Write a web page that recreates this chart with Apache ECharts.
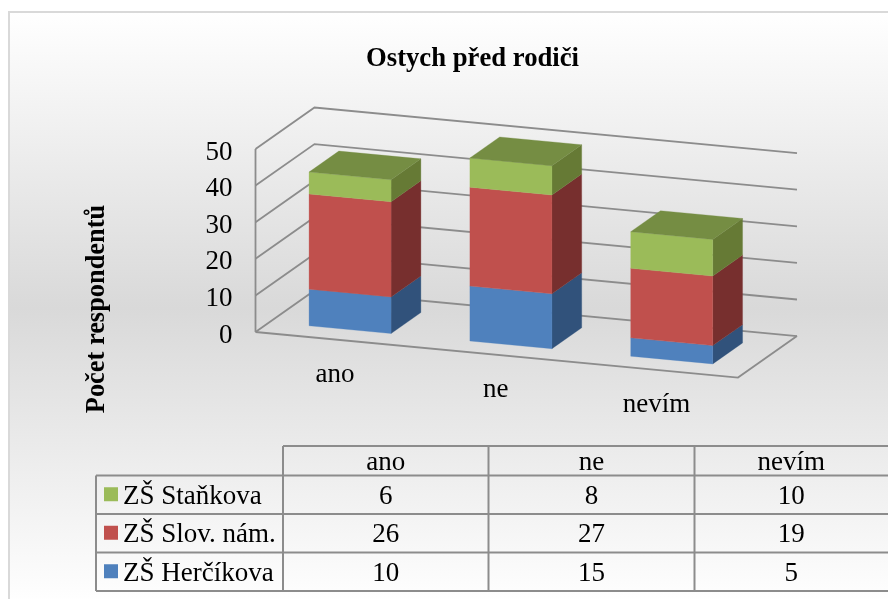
<!DOCTYPE html>
<html><head><meta charset="utf-8">
<style>html,body{margin:0;padding:0;background:#fff}#c{width:888px;height:599px}</style>
<script src="https://cdn.jsdelivr.net/npm/echarts@6/dist/echarts.min.js"></script>
</head><body><div id="c"></div>
<script>
const titleText = 'Ostych před rodiči';
const yAxisTitle = 'Počet respondentů';
const categories = ['ano', 'ne', 'nevím'];
const herčíkova = [10, 15, 5];
const slovNam = [26, 27, 19];
const staňkova = [6, 8, 10];
const seriesNames = ['ZŠ Herčíkova', 'ZŠ Slov. nám.', 'ZŠ Staňkova'];
const yTicks = [0, 10, 20, 30, 40, 50];

const FONT = '"Liberation Serif"';
const LINE = '#8c8c8c';
const front = ['#4f81bd', '#c0504d', '#9bbb59'];
const side = ['#31527b', '#772f2e', '#667a35'];
const topFace = '#758d43';

// oblique projection: the axis plane is sheared and depth runs up and to the right
const SLOPE = 0.0945, DX = 59, DY = -41.5;
const BAR_FRAC = 0.51, D0 = 0.24, D1 = 0.745;
function proj(cs, p, d) {
  return [p[0] + DX * d, p[1] + (p[0] - cs.x) * SLOPE + DY * d];
}

function base(i) {
  const all = [herčíkova, slovNam, staňkova];
  return (k) => { let s = 0; for (let j = 0; j < k; j++) s += all[j][i]; return s; };
}

function barSeries(name, values, k) {
  return {
    type: 'custom', name, coordinateSystem: 'cartesian2d', z: 3 + k,
    data: values.map((v, i) => [i, base(i)(k), base(i)(k) + v]),
    encode: { x: 0, y: [1, 2] },
    renderItem(params, api) {
      const cs = params.coordSys;
      const i = api.value(0);
      const w = api.size([1, 0])[0] * BAR_FRAC;
      const a = api.coord([i, api.value(1)]);
      const b = api.coord([i, api.value(2)]);
      const L = a[0] - w / 2, R = a[0] + w / 2;
      const P = (x, y, d) => proj(cs, [x, y], d);
      const children = [
        { type: 'polygon', shape: { points: [P(R, a[1], D0), P(R, a[1], D1), P(R, b[1], D1), P(R, b[1], D0)] },
          style: { fill: side[k], stroke: side[k], lineWidth: 0.3 } },
        { type: 'polygon', shape: { points: [P(L, a[1], D0), P(R, a[1], D0), P(R, b[1], D0), P(L, b[1], D0)] },
          style: { fill: front[k], stroke: front[k], lineWidth: 0.3 } }
      ];
      if (k === 2) children.push({ type: 'polygon',
        shape: { points: [P(L, b[1], D0), P(R, b[1], D0), P(R, b[1], D1), P(L, b[1], D1)] },
        style: { fill: topFace, stroke: topFace, lineWidth: 0.3 } });
      return { type: 'group', children };
    }
  };
}

const wallSeries = {
  type: 'custom', coordinateSystem: 'cartesian2d', z: 2, silent: true,
  data: yTicks.map(v => [0, v]),
  encode: { x: 0, y: 1 },
  renderItem(params, api) {
    const cs = params.coordSys;
    const v = api.value(1);
    const y = api.coord([0, v])[1];
    const lx = cs.x, rx = cs.x + cs.width;
    const st = { stroke: LINE, lineWidth: 1.8, fill: null };
    const children = [{ type: 'polyline', shape: { points: [proj(cs, [lx, y], 0), proj(cs, [lx, y], 1), proj(cs, [rx, y], 1)] }, style: st }];
    if (v === 0) {
      children.push({ type: 'polyline', shape: { points: [proj(cs, [lx, y], 0), proj(cs, [rx, y], 0), proj(cs, [rx, y], 1)] }, style: st });
      children.push({ type: 'line', shape: { x1: lx, y1: y, x2: lx, y2: cs.y }, style: st });
    }
    return { type: 'group', children };
  }
};

const categoryLabels = {
  type: 'custom', coordinateSystem: 'cartesian2d', z: 2, silent: true,
  data: categories.map((c, i) => [i, 0, c]),
  encode: { x: 0, y: 1 },
  renderItem(params, api) {
    const cs = params.coordSys;
    const p = proj(cs, api.coord([api.value(0), 0]), 0);
    return { type: 'text', x: p[0] - 1, y: p[1] + 35,
      style: { text: categories[api.value(0)], font: '27px ' + FONT, fill: '#000', align: 'center', verticalAlign: 'middle' } };
  }
};

// data table
const colX = [96, 283, 488.5, 694.5, 888];
const rowY = [446, 475.5, 514, 552.5, 591];
const tableRows = [
  { name: seriesNames[2], values: staňkova, color: front[2] },
  { name: seriesNames[1], values: slovNam, color: front[1] },
  { name: seriesNames[0], values: herčíkova, color: front[0] }
];
const tableEls = [];
function hLine(x1, x2, y) { tableEls.push({ type: 'line', shape: { x1, x2, y1: y, y2: y }, style: { stroke: LINE, lineWidth: 2 }, silent: true, z: 5 }); }
function vLine(x, y1, y2) { tableEls.push({ type: 'line', shape: { x1: x, x2: x, y1, y2 }, style: { stroke: LINE, lineWidth: 2 }, silent: true, z: 5 }); }
function cell(text, x, y, align) { tableEls.push({ type: 'text', x, y: y + 2, silent: true, z: 6, style: { text, font: '27px ' + FONT, fill: '#000', align: align || 'center', verticalAlign: 'middle' } }); }
hLine(colX[1], colX[4], rowY[0]);
for (let r = 1; r < rowY.length; r++) hLine(colX[0], colX[4], rowY[r]);
vLine(colX[0], rowY[1], rowY[4]);
for (let c = 1; c <= 3; c++) vLine(colX[c], rowY[0], rowY[4]);
categories.forEach((c, i) => cell(c, (colX[i + 1] + colX[i + 2]) / 2, (rowY[0] + rowY[1]) / 2));
tableRows.forEach((row, r) => {
  const cy = (rowY[r + 1] + rowY[r + 2]) / 2;
  tableEls.push({ type: 'rect', shape: { x: 104, y: cy - 7.5, width: 14, height: 14 }, style: { fill: row.color }, silent: true, z: 6 });
  cell(row.name, 123, cy, 'left');
  row.values.forEach((v, i) => cell(String(v), (colX[i + 1] + colX[i + 2]) / 2, cy));
});

const chart = echarts.init(document.getElementById('c'), null, { renderer: 'canvas' });
chart.setOption({
  animation: false,
  backgroundColor: '#ffffff',
  title: { text: titleText, left: 467.5, top: 41, textAlign: 'center',
    textStyle: { fontFamily: FONT, fontWeight: 'bold', fontSize: 26.7, color: '#000' } },
  grid: { left: 255.5, right: 150, top: 149, bottom: 267, containLabel: false },
  xAxis: { type: 'category', data: categories, show: false },
  yAxis: { type: 'value', min: 0, max: 50, interval: 10,
    axisLine: { show: false }, axisTick: { show: false }, splitLine: { show: false },
    axisLabel: { margin: 23, color: '#000', formatter: '{t|{value}}',
      rich: { t: { fontFamily: FONT, fontSize: 27, color: '#000', padding: [7, 0, 0, 0] } } } },
  graphic: { elements: [
    { type: 'rect', z: -10, silent: true, shape: { x: 9, y: 12, width: 900, height: 592 },
      style: { stroke: '#d9d9d9', lineWidth: 2,
        fill: new echarts.graphic.LinearGradient(0, 0, 0, 1, [
          { offset: 0, color: '#ffffff' }, { offset: 0.5, color: '#d9d9d9' }, { offset: 1, color: '#ffffff' }]) } },
    { type: 'text', x: 97, y: 309, rotation: Math.PI / 2, silent: true, z: 6,
      style: { text: yAxisTitle, font: 'bold 26.4px ' + FONT, fill: '#000', align: 'center', verticalAlign: 'middle' } },
    ...tableEls
  ] },
  series: [wallSeries, categoryLabels,
    barSeries(seriesNames[0], herčíkova, 0),
    barSeries(seriesNames[1], slovNam, 1),
    barSeries(seriesNames[2], staňkova, 2)]
});
</script></body></html>
